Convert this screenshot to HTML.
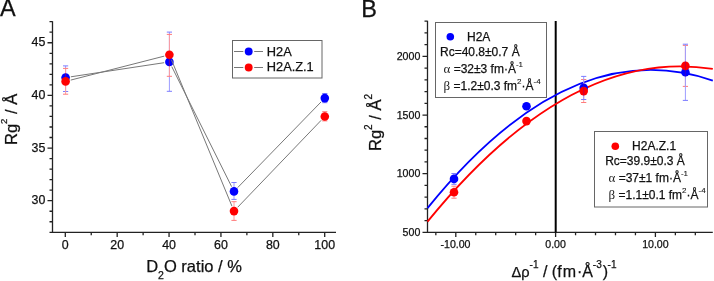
<!DOCTYPE html>
<html><head><meta charset="utf-8"><style>
html,body{margin:0;padding:0;background:#fff;overflow:hidden;}
svg{display:block;will-change:transform;}
text{font-family:"Liberation Sans",sans-serif;fill:#111;stroke:#111;stroke-width:0.25px;}
.serif{font-family:"Liberation Serif",serif;stroke:none;fill:#222;}
</style></head><body>
<svg width="714" height="281" viewBox="0 0 714 281">
<rect width="714" height="281" fill="#fff"/>
<text x="0" y="16.3" font-size="23.5">A</text>
<path d="M52.5 21.19 V232.4 H336 M49.5 232.4H52.5 M49.5 221.76H52.5 M49.5 211.23H52.5 M47.5 200.7H52.5 M49.5 190.17H52.5 M49.5 179.64H52.5 M49.5 169.11H52.5 M49.5 158.58H52.5 M47.5 148.05H52.5 M49.5 137.52H52.5 M49.5 126.99H52.5 M49.5 116.46H52.5 M49.5 105.93H52.5 M47.5 95.4H52.5 M49.5 84.87H52.5 M49.5 74.34H52.5 M49.5 63.81H52.5 M49.5 53.28H52.5 M47.5 42.75H52.5 M49.5 32.22H52.5 M49.5 21.69H52.5 M65.3 232.4V236.9 M91.24 232.4V235.2 M117.18 232.4V236.9 M143.12 232.4V235.2 M169.06 232.4V236.9 M195 232.4V235.2 M220.94 232.4V236.9 M246.88 232.4V235.2 M272.82 232.4V236.9 M298.76 232.4V235.2 M324.7 232.4V236.9" stroke="#222" stroke-width="1.3" fill="none"/>
<g font-size="12.4" text-anchor="end">
<text x="45.3" y="46.35">45</text>
<text x="45.3" y="99">40</text>
<text x="45.3" y="151.65">35</text>
<text x="45.3" y="204.3">30</text>
</g>
<g font-size="12.4" text-anchor="middle">
<text x="65.3" y="248.8">0</text>
<text x="117.18" y="248.8">20</text>
<text x="169.06" y="248.8">40</text>
<text x="220.94" y="248.8">60</text>
<text x="272.82" y="248.8">80</text>
<text x="324.7" y="248.8">100</text>
</g>
<text x="146.2" y="271.9" font-size="16.5">D<tspan font-size="10.5" dy="7">2</tspan><tspan dy="-7">O ratio / %</tspan></text>
<text transform="translate(16.9,145) rotate(-90)" font-size="16.5">Rg<tspan font-size="9.5" dy="-9.6">2</tspan><tspan dy="9.6"> / Å</tspan></text>
<rect x="232.5" y="40.5" width="89.5" height="37.5" fill="none" stroke="#666" stroke-width="1"/>
<path d="M234 51.5H243.3 M254.2 51.5H263 M234 67.5H243.3 M254.2 67.5H263" stroke="#777" stroke-width="1"/>
<circle cx="248.7" cy="51.5" r="3.95" fill="#0000ff"/>
<circle cx="248.7" cy="67.5" r="3.95" fill="#ff0000"/>
<g font-size="12.8"><text x="266.8" y="55.9">H2A</text><text x="266.8" y="71">H2A.Z.1</text></g>
<defs><clipPath id="cA"><circle cx="65.6" cy="77.6" r="4.3"/><circle cx="169.4" cy="61.9" r="4.3"/><circle cx="234" cy="191.4" r="4.3"/><circle cx="324.8" cy="98.1" r="4.3"/></clipPath></defs>
<path d="M70.84 76.81L164.16 62.69 M171.77 66.64L231.63 186.66 M237.7 187.6L321.1 101.9" fill="none" stroke="#787878" stroke-width="1"/>
<path d="M65.6 65.9V91.5 M169.4 32.1V91.3 M234 182.5V199.4 M324.8 93.5V102.7" stroke="#9c9cff" stroke-width="1" fill="none"/>
<path d="M63 65.9H68.2 M63 91.5H68.2 M166.8 32.1H172 M166.8 91.3H172 M231.4 182.5H236.6 M231.4 199.4H236.6 M322.2 93.5H327.4 M322.2 102.7H327.4" stroke="#7c7cff" stroke-width="1" fill="none"/>
<path d="M65.6 68.4V94.2 M169.4 34.4V76.3 M234 201.7V220.4 M324.8 111.7V120.9" stroke="#ff9c9c" stroke-width="1" fill="none"/>
<path d="M63 68.4H68.2 M63 94.2H68.2 M166.8 34.4H172 M166.8 76.3H172 M231.4 201.7H236.6 M231.4 220.4H236.6 M322.2 111.7H327.4 M322.2 120.9H327.4" stroke="#ff7c7c" stroke-width="1" fill="none"/>
<g fill="#0000ff"><circle cx="65.6" cy="77.6" r="4.3"/><circle cx="169.4" cy="61.9" r="4.3"/><circle cx="234" cy="191.4" r="4.3"/><circle cx="324.8" cy="98.1" r="4.3"/></g>
<path d="M70.73 80.08L164.27 56.12 M171.42 59.7L231.98 206.2 M237.67 207.28L321.13 120.32" fill="none" stroke="#787878" stroke-width="1"/>
<g fill="#ff0000"><circle cx="65.6" cy="81.4" r="4.3"/><circle cx="169.4" cy="54.8" r="4.3"/><circle cx="234" cy="211.1" r="4.3"/><circle cx="324.8" cy="116.5" r="4.3"/></g>
<path d="M65.6 68.4V94.2 M169.4 34.4V76.3 M234 201.7V220.4 M324.8 111.7V120.9" stroke="#ff0000" stroke-opacity="0.4" stroke-width="1.1" fill="none" clip-path="url(#cA)"/>
<text x="361.2" y="16.7" font-size="23.5">B</text>
<path d="M427.5 20.71 V232.4 H712.8 M422.5 232.4H427.5 M424.5 220.57H427.5 M424.5 208.85H427.5 M424.5 197.12H427.5 M424.5 185.39H427.5 M422.5 173.67H427.5 M424.5 161.94H427.5 M424.5 150.21H427.5 M424.5 138.48H427.5 M424.5 126.76H427.5 M422.5 115.03H427.5 M424.5 103.3H427.5 M424.5 91.58H427.5 M424.5 79.85H427.5 M424.5 68.12H427.5 M422.5 56.4H427.5 M424.5 44.67H427.5 M424.5 32.94H427.5 M424.5 21.21H427.5 M435.84 232.4V235.2 M455.8 232.4V236.9 M475.76 232.4V235.2 M495.72 232.4V235.2 M515.68 232.4V235.2 M535.64 232.4V235.2 M555.6 232.4V236.9 M575.56 232.4V235.2 M595.52 232.4V235.2 M615.48 232.4V235.2 M635.44 232.4V235.2 M655.4 232.4V236.9 M675.36 232.4V235.2 M695.32 232.4V235.2" stroke="#222" stroke-width="1.3" fill="none"/>
<g font-size="10.6" text-anchor="end">
<text x="420.3" y="59.9">2000</text>
<text x="420.3" y="118.53">1500</text>
<text x="420.3" y="177.17">1000</text>
<text x="420.3" y="235.8">500</text>
</g>
<g font-size="10.6" text-anchor="middle">
<text x="455.5" y="247.6">-10.00</text>
<text x="555.6" y="247.6">0.00</text>
<text x="655.4" y="247.6">10.00</text>
</g>
<text x="511.5" y="276.8" font-size="16"><tspan font-size="14.6">Δρ</tspan><tspan font-size="10" dy="-9">-1</tspan><tspan dy="9"> / (f</tspan><tspan x="562.8">m</tspan><tspan x="576.9">·</tspan><tspan x="582.3">Å</tspan><tspan x="592.8" font-size="10" dy="-9">-3</tspan><tspan x="602.8" dy="9">)</tspan><tspan x="607.6" font-size="10" dy="-9">-1</tspan></text>
<text transform="translate(381,151) rotate(-90)" font-size="16.5">Rg<tspan font-size="10" dy="-8.8">2</tspan><tspan dy="8.8"> / Å</tspan><tspan font-size="10" dy="-8.8">2</tspan></text>
<path d="M555.7 21V232.4" stroke="#000" stroke-width="2"/>
<rect x="435.5" y="22.5" width="111" height="75" fill="#fff" stroke="#666" stroke-width="1"/>
<circle cx="450.3" cy="36.8" r="3.8" fill="#0000ff"/>
<g font-size="12">
<text x="467" y="40.9">H2A</text>
<text x="440" y="55.5">Rc=40.8±0.7 Å</text>
<text x="443.5" y="72.6"><tspan class="serif" font-size="13">α</tspan> =32±3 fm·Å<tspan font-size="8" dy="-6" stroke-width="0.1">-1</tspan></text>
<text x="443.5" y="89.6"><tspan class="serif" font-size="13">β</tspan> =1.2±0.3 fm<tspan font-size="8" dy="-6" stroke-width="0.1">2</tspan><tspan dy="6">·Å</tspan><tspan font-size="8" dy="-6" stroke-width="0.1">-4</tspan></text>
</g>
<rect x="594.5" y="131.5" width="113" height="75.5" fill="#fff" stroke="#666" stroke-width="1"/>
<circle cx="615.3" cy="146.3" r="3.8" fill="#ff0000"/>
<g font-size="12">
<text x="632.1" y="149.8">H2A.Z.1</text>
<text x="605.2" y="164.9">Rc=39.9±0.3 Å</text>
<text x="608.5" y="181.5"><tspan class="serif" font-size="13">α</tspan> =37±1 fm·Å<tspan font-size="8" dy="-6" stroke-width="0.1">-1</tspan></text>
<text x="608.5" y="199"><tspan class="serif" font-size="13">β</tspan> =1.1±0.1 fm<tspan font-size="8" dy="-6" stroke-width="0.1">2</tspan><tspan dy="6">·Å</tspan><tspan font-size="8" dy="-6" stroke-width="0.1">-4</tspan></text>
</g>
<path d="M427.5 208.13 Q570.15 31.51 712.8 80.62" fill="none" stroke="#0000ff" stroke-width="1.85"/>
<path d="M427.5 221.67 Q570.15 46.14 712.8 68.93" fill="none" stroke="#ff0000" stroke-width="1.85"/>
<defs><clipPath id="cB"><circle cx="454" cy="178.9" r="4.3"/><circle cx="526.5" cy="106.2" r="4.3"/><circle cx="583.7" cy="87.9" r="4.3"/><circle cx="685.4" cy="72.3" r="4.3"/><circle cx="454" cy="192.2" r="4.3"/><circle cx="526.5" cy="121.1" r="4.3"/><circle cx="583.7" cy="91.1" r="4.3"/><circle cx="685.4" cy="65.9" r="4.3"/></clipPath></defs>
<path d="M454 186.2V198.2 M583.7 79.5V102.5 M685.4 45.4V86.4" stroke="#ff9c9c" stroke-width="1" fill="none"/>
<path d="M451.4 186.2H456.6 M451.4 198.2H456.6 M581.1 79.5H586.3 M581.1 102.5H586.3 M682.8 45.4H688 M682.8 86.4H688" stroke="#ff7c7c" stroke-width="1" fill="none"/>
<path d="M454 173.5V184.3 M583.7 76.4V99.5 M685.4 44.2V100.4" stroke="#9c9cff" stroke-width="1" fill="none"/>
<path d="M451.4 173.5H456.6 M451.4 184.3H456.6 M581.1 76.4H586.3 M581.1 99.5H586.3 M682.8 44.2H688 M682.8 100.4H688" stroke="#7c7cff" stroke-width="1" fill="none"/>
<g fill="#0000ff"><circle cx="454" cy="178.9" r="4.3"/><circle cx="526.5" cy="106.2" r="4.3"/><circle cx="583.7" cy="87.9" r="4.3"/><circle cx="685.4" cy="72.3" r="4.3"/></g>
<g fill="#ff0000"><circle cx="454" cy="192.2" r="4.3"/><circle cx="526.5" cy="121.1" r="4.3"/><circle cx="583.7" cy="91.1" r="4.3"/><circle cx="685.4" cy="65.9" r="4.3"/></g>
<path d="M454 186.2V198.2 M583.7 79.5V102.5 M685.4 45.4V86.4" stroke="#ff0000" stroke-opacity="0.22" stroke-width="1.1" fill="none" clip-path="url(#cB)"/>
<path d="M454 173.5V184.3 M583.7 76.4V99.5 M685.4 44.2V100.4" stroke="#0000ff" stroke-opacity="0.22" stroke-width="1.1" fill="none" clip-path="url(#cB)"/>
</svg>
</body></html>
